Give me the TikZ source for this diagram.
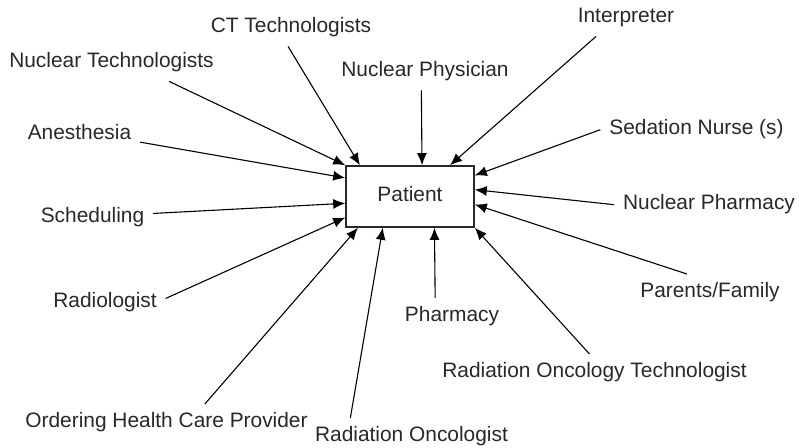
\documentclass[tikz,border=0pt]{standalone}
\usepackage{fontspec}
\setmainfont{Liberation Sans}
\usetikzlibrary{arrows.meta}

\definecolor{ink}{RGB}{40,40,40}

\begin{document}
\begin{tikzpicture}[x=0.5pt, y=-0.5pt, line width=0.55pt,
  font=\fontsize{10.45}{12}\selectfont, text=ink,
  lbl/.style={anchor=base, inner sep=0pt, outer sep=4.5pt, text height=7.5pt, text depth=2.2pt},
  box/.style={draw=ink, line width=0.8pt, minimum width=64pt, minimum height=30.5pt, inner sep=0pt, text height=7.5pt, text depth=2.2pt},
  arr/.style={-{Latex[length=6pt,width=5pt]}}]

\useasboundingbox (0,0) rectangle (799,448);

% Draw patient box
\node[box] (patient) at (410,196.5) {Patient};

% Draw labels around patient
\node[lbl] (ct) at (291,33) {CT Technologists};
\node[lbl] (nt) at (111.5,68) {Nuclear Technologists};
\node[lbl] (np) at (425,77) {Nuclear Physician};
\node[lbl] (interp) at (626,23) {Interpreter};
\node[lbl] (sedation) at (696.5,135) {Sedation Nurse (s)};
\node[lbl] (npharm) at (709,210) {Nuclear Pharmacy};
\node[lbl] (parents) at (710,298) {Parents/Family};
\node[lbl] (rot) at (594.5,378) {Radiation Oncology Technologist};
\node[lbl] (pharm) at (452,322) {Pharmacy};
\node[lbl] (ro) at (411.5,442) {Radiation Oncologist};
\node[lbl] (ohcp) at (166.5,428) {Ordering Health Care Provider};
\node[lbl] (radiol) at (105,308) {Radiologist};
\node[lbl] (sched) at (92.5,223) {Scheduling};
\node[lbl] (anest) at (79.5,140) {Anesthesia};

% Draw arrows to patient
\draw[arr] (ct.261) -- (patient.148);
\draw[arr] (nt.342) -- (patient.north west);
\draw[arr] (np.259) -- (patient.69);
\draw[arr] (interp.212) -- (patient.38);
\draw[arr] (sedation.west) -- (patient.18);
\draw[arr] (npharm.west) -- (patient.6);
\draw[arr] (parents.141) -- (patient.353);
\draw[arr] (rot.105) -- (patient.south east);
\draw[arr] (pharm.132) -- (patient.308);
\draw[arr] (ro.163) -- (patient.229);
\draw[arr] (ohcp.26) -- (patient.211);
\draw[arr] (radiol.4) -- (patient.198);
\draw[arr] (sched.4) -- (patient.186);
\draw[arr] (anest.353) -- (patient.164);

\end{tikzpicture}
\end{document}
